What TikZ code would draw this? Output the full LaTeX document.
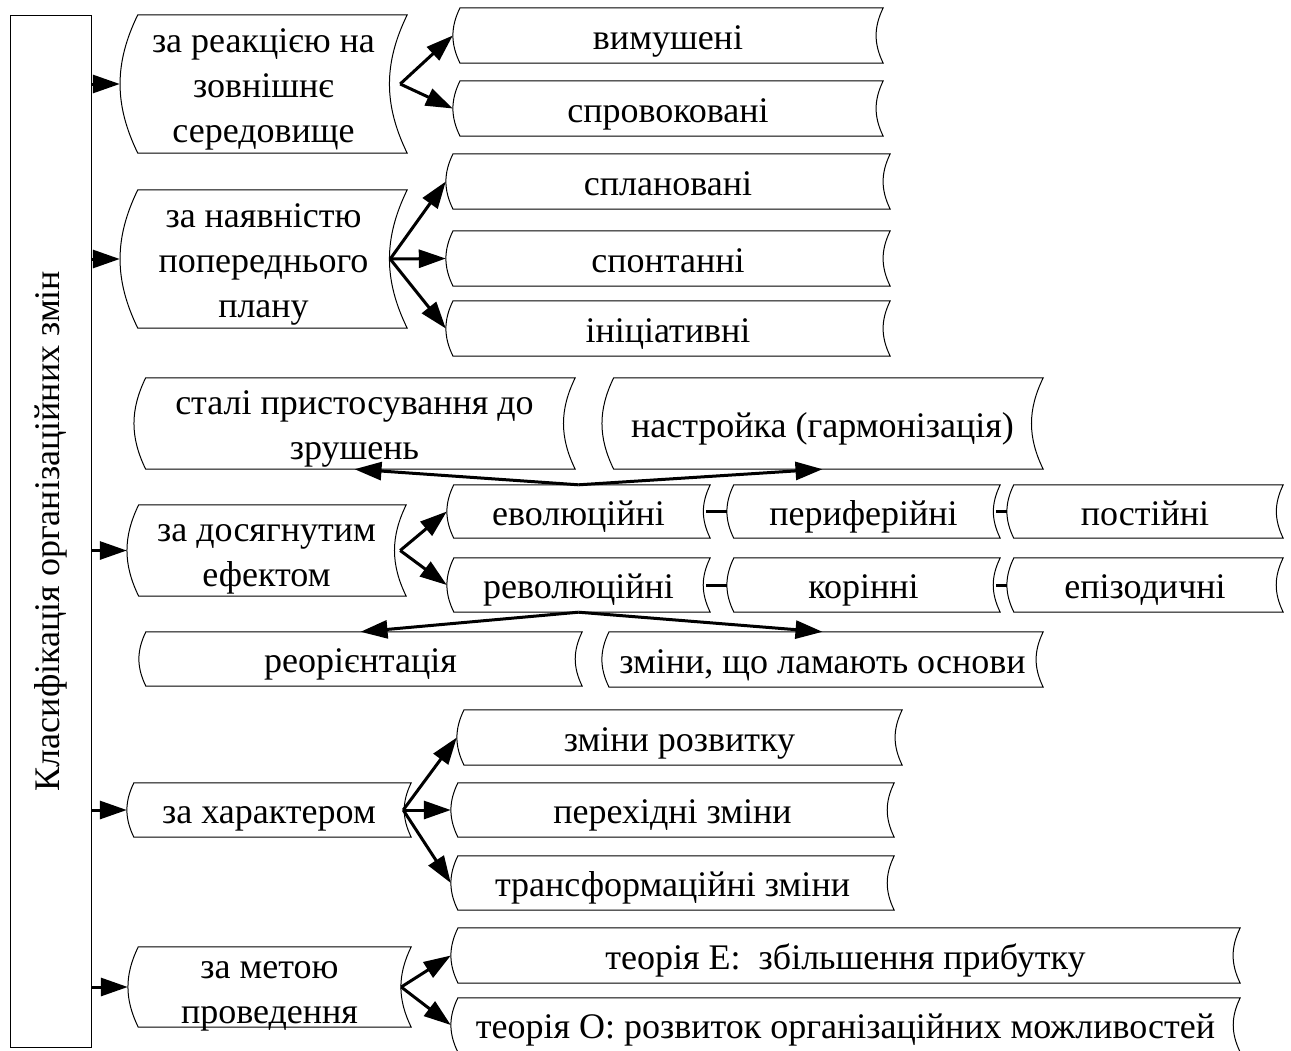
\documentclass[tikz,border=0pt]{standalone}
\usepackage{fontspec}
\setmainfont{Liberation Serif}
\usepackage{graphicx}
\usetikzlibrary{arrows.meta,calc}

\newcommand{\txt}{\fontsize{36}{45}\selectfont}
\newcommand{\lns}[1]{\begin{tabular}{@{}c@{}}#1\end{tabular}}
\tikzset{
  box/.style={inner sep=0pt, font=\txt, text height=22pt, text depth=0pt},
  sz/.style 2 args={minimum width=#1pt, minimum height=#2pt},
  outline/.style={line width=1pt},
  arr/.style={line width=3pt, -{Triangle[length=27pt,width=18pt]}},
  link/.style={line width=3pt},
}

\begin{document}
\begin{tikzpicture}[x=1pt,y=-1pt]
  \useasboundingbox (0,0) rectangle (1291,1050);
  \node[draw,outline,inner sep=0pt,minimum width=81pt,minimum height=1032pt] (main) at (50.5,531) {\rotatebox{90}{\txt Класифікація організаційних змін}};

  \node[box,sz={287}{138}] (c1) at (263.5,84) {\lns{за реакцією на\\зовнішнє\\середовище}};
  \node[box,sz={287}{138}] (c2) at (263.5,259) {\lns{за наявністю\\попереднього\\плану}};
  \node[box,sz={279}{91}] (c3) at (266.5,550.5) {\lns{за досягнутим\\ефектом}};
  \node[box,sz={284}{54}] (c4) at (269,810) {\lns{за характером}};
  \node[box,sz={283}{80}] (c5) at (269.5,987) {\lns{за метою\\проведення}};

  \node[box,sz={430}{55}] (a1) at (668,35.5) {\lns{вимушені}};
  \node[box,sz={430}{55}] (a2) at (668,108.5) {\lns{спровоковані}};
  \node[box,sz={444}{55}] (b1) at (668,181.5) {\lns{сплановані}};
  \node[box,sz={444}{55}] (b2) at (668,258.5) {\lns{спонтанні}};
  \node[box,sz={444}{55}] (b3) at (668,328.5) {\lns{ініціативні}};

  \node[box,sz={441}{91}] (s1) at (354.5,423.5) {\lns{сталі пристосування до\\зрушень}};
  \node[box,sz={441}{91}] (s2) at (822.5,423.5) {\lns{настройка (гармонізація)}};
  \node[box,sz={263}{53}] (e1) at (578.5,511.5) {\lns{еволюційні}};
  \node[box,sz={273}{53}] (e2) at (863.5,511.5) {\lns{периферійні}};
  \node[box,sz={276}{53}] (e3) at (1145,511.5) {\lns{постійні}};
  \node[box,sz={263}{54}] (r1) at (578.5,585) {\lns{революційні}};
  \node[box,sz={273}{54}] (r2) at (863.5,585) {\lns{корінні}};
  \node[box,sz={276}{54}] (r3) at (1145,585) {\lns{епізодичні}};
  \node[box,sz={443}{54}] (t1) at (360.5,659) {\lns{реорієнтація}};
  \node[box,sz={441}{55}] (t2) at (822.5,659.5) {\lns{зміни, що ламають основи}};

  \node[box,sz={445}{55}] (d1) at (679.5,737.5) {\lns{зміни розвитку}};
  \node[box,sz={443}{54}] (d2) at (672.5,810) {\lns{перехідні зміни}};
  \node[box,sz={443}{54}] (d3) at (672.5,883) {\lns{трансформаційні зміни}};
  \node[box,sz={789}{55}] (g1) at (845.5,955.5) {\lns{теорія Е:~ збільшення прибутку}};
  \node[box,sz={789}{54}] (g2) at (845.5,1025) {\lns{теорія О: розвиток організаційних можливостей}};

  \foreach \k in {c1,c2,c3,c4,c5,a1,a2,b1,b2,b3,s1,s2,e1,e2,e3,r1,r2,r3,t1,t2,d1,d2,d3,g1,g2}
    \draw[outline] let \p1=(\k.north west), \p2=(\k.south east), \n1={0.13*(\y1-\y2)} in
      (\x1+\n1,\y1) to[bend right=26] (\x1+\n1,\y2) -- (\x2,\y2) to[bend left=26] (\x2,\y1) -- cycle;

  \foreach \k in {c1,c2,c3,c4,c5}
    \draw[arr] (main.east |- \k.west) -- (\k.west);

  \coordinate (f1) at ([xshift=-7pt]c1.east);
  \coordinate (f2) at ([xshift=-17pt]c2.east);
  \coordinate (f3) at ([xshift=-6pt]c3.east);
  \coordinate (f4) at ([xshift=-8pt]c4.east);
  \coordinate (f5) at ([xshift=-10pt]c5.east);

  \draw[arr] (f1) -- (a1.west);
  \draw[arr] (f1) -- (a2.west);
  \draw[arr] (f2) -- (b1.west);
  \draw[arr] (f2) -- (b2.west);
  \draw[arr] (f2) -- (b3.west);
  \draw[arr] (f3) -- (e1.west);
  \draw[arr] (f3) -- (r1.west);
  \draw[arr] (f4) -- (d1.west);
  \draw[arr] (f4) -- (d2.west);
  \draw[arr] (f4) -- (d3.west);
  \draw[arr] (f5) -- (g1.west);
  \draw[arr] (f5) -- (g2.west);

  \draw[arr] (e1.north) -- (s1.south);
  \draw[arr] (e1.north) -- (s2.south);
  \draw[arr] (r1.south) -- (t1.north);
  \draw[arr] (r1.south) -- (t2.north);

  \draw[link] ([xshift=-4pt]e1.east) -- (e2.west);
  \draw[link] ([xshift=-4pt]e2.east) -- (e3.west);
  \draw[link] ([xshift=-4pt]r1.east) -- (r2.west);
  \draw[link] ([xshift=-4pt]r2.east) -- (r3.west);
\end{tikzpicture}
\end{document}
